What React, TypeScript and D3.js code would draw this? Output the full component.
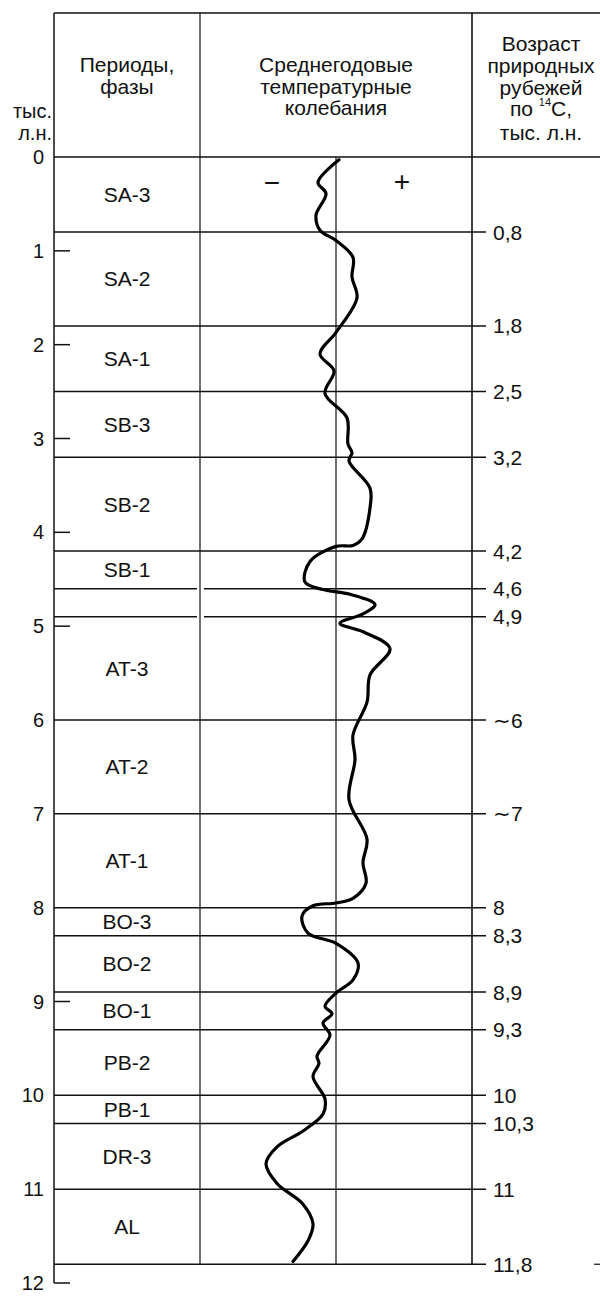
import { scaleLinear, line, curveCatmullRom } from 'd3'

const ageTicks = [0, 1, 2, 3, 4, 5, 6, 7, 8, 9, 10, 11, 12]
const phaseNames = ['SA-3', 'SA-2', 'SA-1', 'SB-3', 'SB-2', 'SB-1', '', 'AT-3', 'AT-2', 'AT-1', 'BO-3', 'BO-2', 'BO-1', 'PB-2', 'PB-1', 'DR-3', 'AL']
const phaseEdges = [0, 0.8, 1.8, 2.5, 3.2, 4.2, 4.6, 4.9, 6, 7, 8, 8.3, 8.9, 9.3, 10, 10.3, 11, 11.8]
const edgeLabels = ['0,8', '1,8', '2,5', '3,2', '4,2', '4,6', '4,9', '∼6', '∼7', '8', '8,3', '8,9', '9,3', '10', '10,3', '11', '11,8']

// age (тыс. л.н.) / relative temperature anomaly
const curveAge = [
  0.03, 0.27, 0.39, 0.62, 0.78, 0.89, 1.07, 1.28, 1.5, 1.87, 2.1, 2.28, 2.52, 2.78, 3.06, 3.15, 3.24,
  3.53, 3.74, 4.07, 4.14, 4.15, 4.31, 4.53, 4.61, 4.66, 4.77, 4.87, 4.97, 5.06, 5.24, 5.52, 5.81,
  6.16, 6.42, 6.85, 7.27, 7.52, 7.74, 7.9, 7.95, 7.98, 8.09, 8.27, 8.38, 8.59, 8.77, 8.91, 9.05,
  9.13, 9.23, 9.36, 9.58, 9.66, 9.8, 10.04, 10.2, 10.38, 10.55, 10.73, 10.94, 11.16, 11.37, 11.55, 11.77,
]
const curveTemp = [
  0.3, -1.8, -1.0, -2.0, -1.6, 0, 1.7, 1.6, 2.1, 0, -1.6, -0.2, -1.1, 1.1, 1.2, 1.6, 1.3,
  3.4, 3.4, 2.6, 1.7, 0, -2.6, -3.1, -1.3, 1.4, 3.9, 2.7, 0.4, 2.7, 5.4, 3.4, 3.1,
  1.7, 1.9, 1.3, 3.1, 2.7, 3.0, 1.7, 0, -2.3, -3.4, -2.8, 0, 2.2, 1.7, 0, -1.1,
  -0.4, -1.3, -0.6, -1.9, -1.7, -2.3, -1.1, -1.3, -3.3, -5.9, -7.0, -5.9, -3.3, -2.3, -2.8, -4.3,
]

const FONT = 'Liberation Sans, Arial, sans-serif'

export default function App() {
  const width = 600
  const height = 1298
  const xAxis = 54
  const xPhase = 200
  const xTempEnd = 472
  const top = 13

  const y = scaleLinear().domain([0, 12]).range([157, 1283])
  const x = scaleLinear().domain([-13.5, 13.5]).range([201, 471])
  const bottom = y(11.8)

  const path = line<number>()
    .x((_, i) => x(curveTemp[i]))
    .y((a) => y(a))
    .curve(curveCatmullRom.alpha(0.5))(curveAge)

  const stroke = '#111'

  return (
    <div style={{ position: 'absolute', left: 0, top: 0 }}>
      <svg width={width} height={height} viewBox={`0 0 ${width} ${height}`} style={{ display: 'block', background: '#fff' }} fontFamily={FONT}>
        {/* frame */}
        <line x1={xAxis} y1={top} x2={width} y2={top} stroke={stroke} strokeWidth={1.5} />
        <line x1={xAxis} y1={y(0)} x2={width} y2={y(0)} stroke={stroke} strokeWidth={1.5} />
        <line x1={xAxis} y1={top} x2={xAxis} y2={y(12)} stroke={stroke} strokeWidth={1.5} />
        <line x1={xPhase} y1={top} x2={xPhase} y2={bottom} stroke={stroke} strokeWidth={1.2} />
        <line x1={x(0)} y1={y(0)} x2={x(0)} y2={bottom} stroke={stroke} strokeWidth={1.2} />
        <line x1={xTempEnd} y1={top} x2={xTempEnd} y2={bottom} stroke={stroke} strokeWidth={1.6} />
        <line x1={594} y1={bottom} x2={width} y2={bottom} stroke={stroke} strokeWidth={1.2} />

        {/* phase boundaries */}
        {phaseEdges.slice(1).map((a, i) => {
          const gap = a === 4.6 || a === 4.9
          return (
            <g key={`b-${a}`}>
              {gap ? (
                <>
                  <line x1={xAxis} y1={y(a)} x2={197} y2={y(a)} stroke={stroke} strokeWidth={1.5} />
                  <line x1={204} y1={y(a)} x2={xTempEnd + 14} y2={y(a)} stroke={stroke} strokeWidth={1.5} />
                </>
              ) : (
                <line x1={xAxis} y1={y(a)} x2={xTempEnd + 14} y2={y(a)} stroke={stroke} strokeWidth={1.5} />
              )}
              <text x={493} y={y(a)} dominantBaseline="central" fontSize={21} fill={stroke}>
                {edgeLabels[i]}
              </text>
            </g>
          )
        })}

        {/* left axis */}
        {ageTicks.map((t) => (
          <g key={`t-${t}`}>
            {!phaseEdges.includes(t) && <line x1={xAxis} y1={y(t)} x2={xAxis + 16} y2={y(t)} stroke={stroke} strokeWidth={1.5} />}
            <text x={44} y={y(t)} textAnchor="end" dominantBaseline="central" fontSize={20} fill={stroke}>
              {t}
            </text>
          </g>
        ))}

        {/* phase names */}
        {phaseNames.map((n, i) =>
          n ? (
            <text
              key={`p-${n}`}
              x={(xAxis + xPhase) / 2}
              y={(y(phaseEdges[i]) + y(phaseEdges[i + 1])) / 2}
              textAnchor="middle"
              dominantBaseline="central"
              fontSize={21}
              fill={stroke}
            >
              {n}
            </text>
          ) : null,
        )}

        {/* temperature curve */}
        <path d={path ?? ''} fill="none" stroke="#000" strokeWidth={3.2} strokeLinejoin="round" strokeLinecap="round" />
        <text x={272} y={182} textAnchor="middle" dominantBaseline="central" fontSize={28} fill={stroke}>
          −
        </text>
        <text x={402} y={181} textAnchor="middle" dominantBaseline="central" fontSize={28} fill={stroke}>
          +
        </text>

        {/* headers */}
        <g fontSize={21} fill={stroke} textAnchor="middle">
          <text x={(xAxis + xPhase) / 2} y={64} dominantBaseline="central">Периоды,</text>
          <text x={(xAxis + xPhase) / 2} y={86} dominantBaseline="central">фазы</text>
          <text x={(xPhase + xTempEnd) / 2} y={64} dominantBaseline="central">Среднегодовые</text>
          <text x={(xPhase + xTempEnd) / 2} y={86} dominantBaseline="central">температурные</text>
          <text x={(xPhase + xTempEnd) / 2} y={107} dominantBaseline="central">колебания</text>
          <text x={541} y={43} dominantBaseline="central">Возраст</text>
          <text x={541} y={65} dominantBaseline="central">природных</text>
          <text x={541} y={87} dominantBaseline="central">рубежей</text>
          <text x={541} y={108} dominantBaseline="central">
            по <tspan fontSize={11} dy={-6}>14</tspan>
            <tspan dy={6}>C,</tspan>
          </text>
          <text x={541} y={132} dominantBaseline="central">тыс. л.н.</text>
        </g>
        <g fontSize={20} fill={stroke} textAnchor="end">
          <text x={52} y={111} dominantBaseline="central">тыс.</text>
          <text x={52} y={133} dominantBaseline="central">л.н.</text>
        </g>
      </svg>
    </div>
  )
}
